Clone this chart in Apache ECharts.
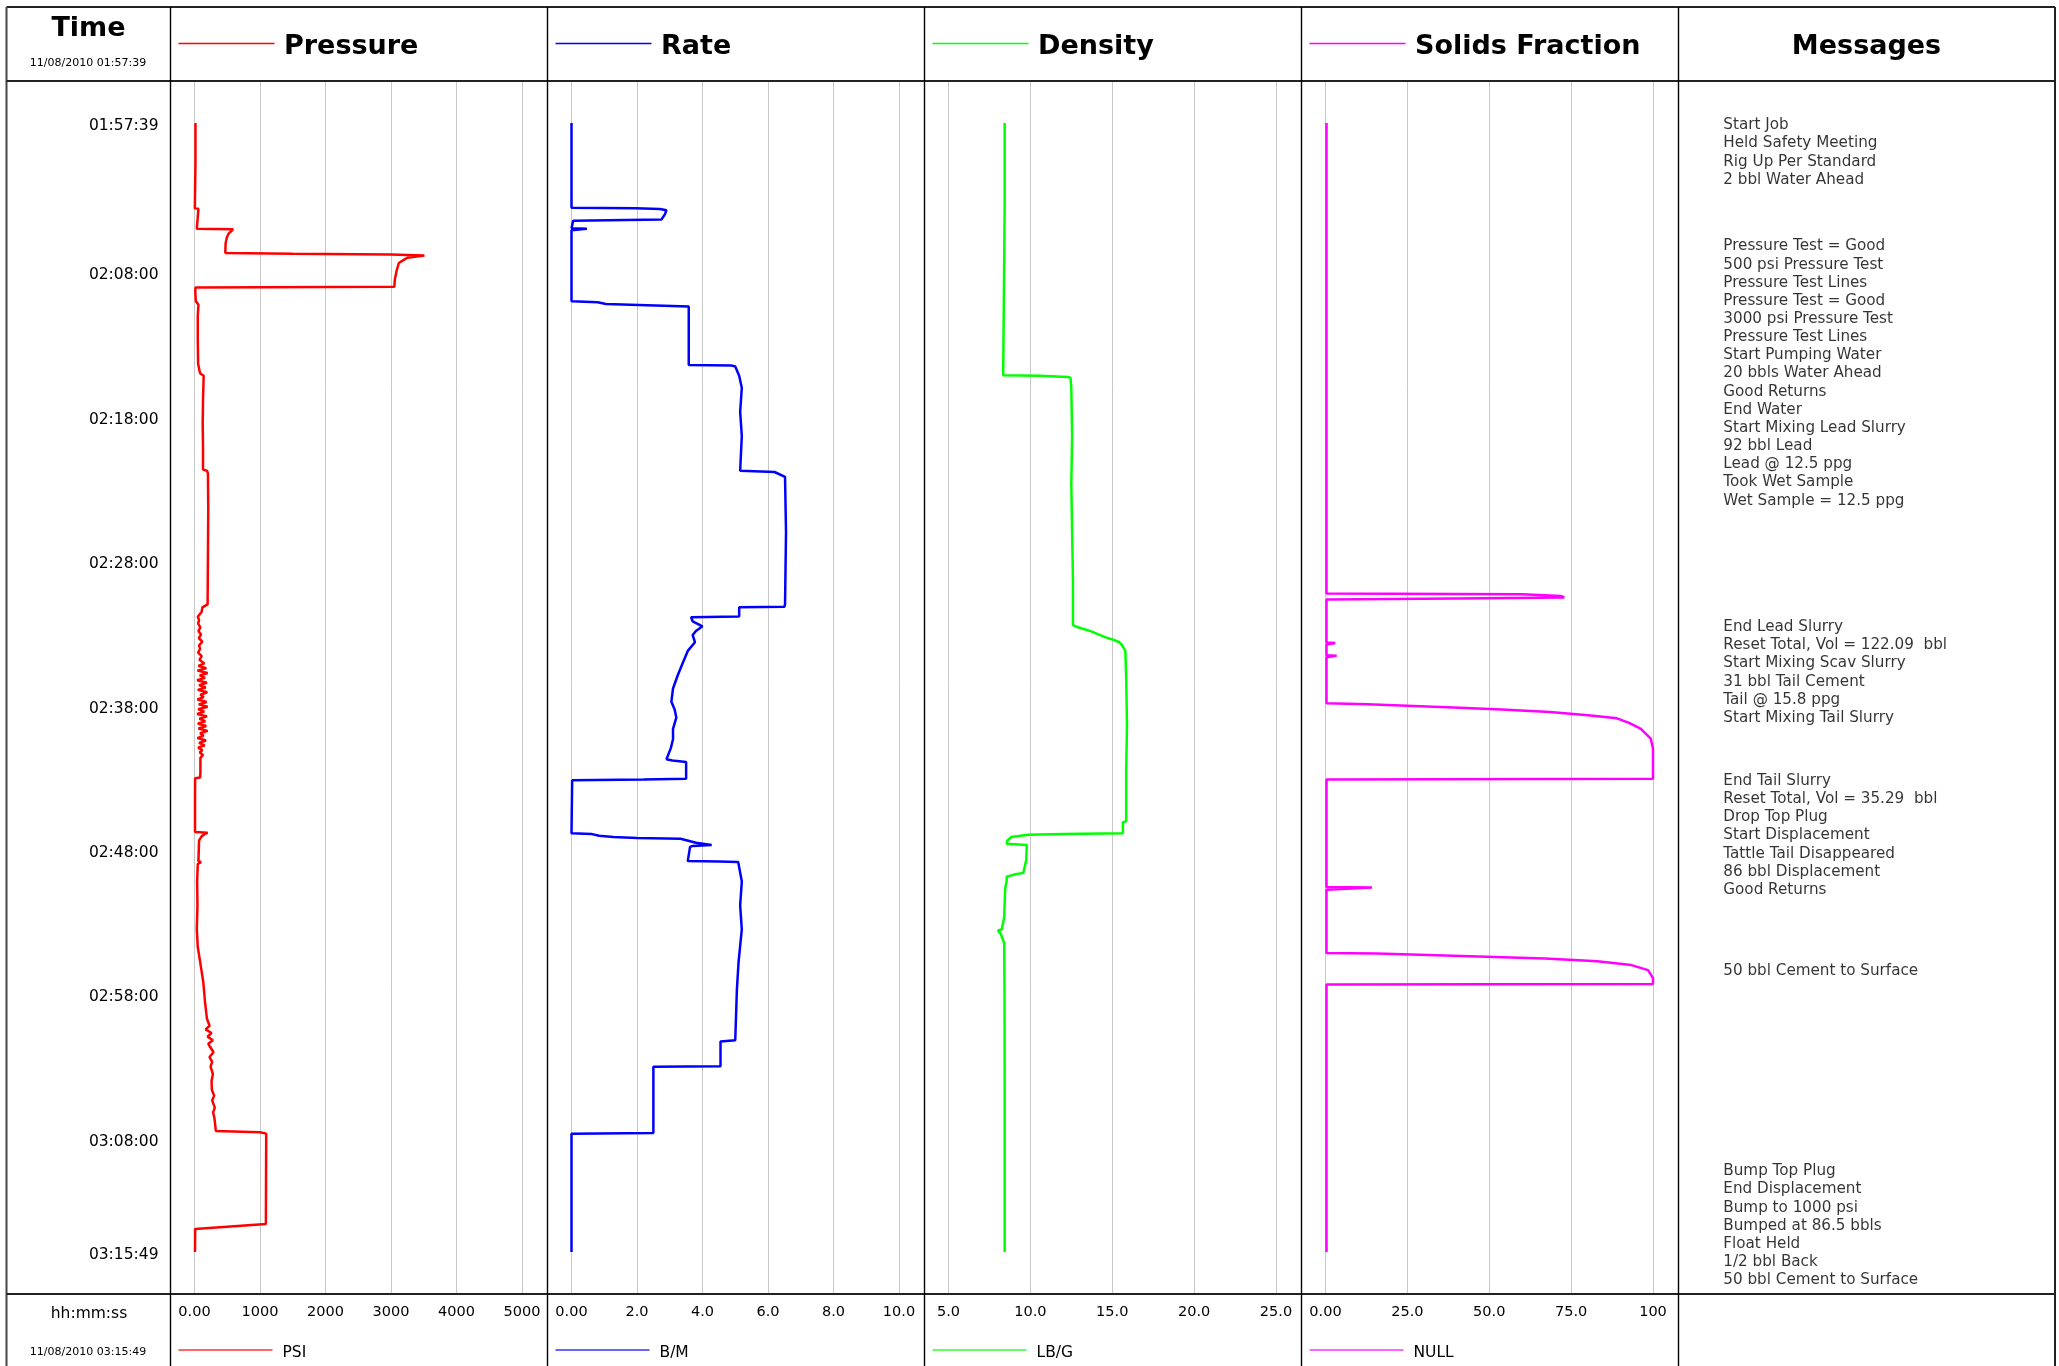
<!DOCTYPE html>
<html>
<head>
<meta charset="utf-8">
<script src="https://cdn.jsdelivr.net/npm/echarts@6/dist/echarts.min.js"></script>
<style>
  html, body { margin: 0; padding: 0; background: #fff; }
  #chart { width: 2059px; height: 1366px; }
</style>
</head>
<body>
<div id="chart"></div>
<script>
// ---------------- DATA ----------------
const startClock = '01:57:39';
const endClock = '03:15:49';
const startDate = '11/08/2010 01:57:39';
const endDate = '11/08/2010 03:15:49';
const timeTicks = ['01:57:39','02:08:00','02:18:00','02:28:00','02:38:00','02:48:00','02:58:00','03:08:00','03:15:49'];

const pressureTicks = ['0.00','1000','2000','3000','4000','5000'];
const rateTicks = ['0.00','2.0','4.0','6.0','8.0','10.0'];
const densityTicks = ['5.0','10.0','15.0','20.0','25.0'];
const solidsTicks = ['0.00','25.0','50.0','75.0','100'];

// [elapsed seconds since start, value]
const pressureData = [
  [0,15],[160,15],[164,5],[355,5],[357,60],[362,35],[440,35],[442,590],[450,570],[460,520],[475,495],[500,475],[540,470],
  [544,1500],[547,3000],[551,3510],[560,3250],[569,3195],[582,3120],[615,3085],[648,3060],[681,3050],[684,15],[700,12],
  [740,20],[755,60],[800,50],[900,50],[1000,55],[1006,80],[1040,85],[1050,140],[1150,130],[1250,125],[1350,130],[1440,130],
  [1445,190],[1455,205],[1600,210],[1800,205],[2000,200],[2007,170],[2012,120],[2030,110],[2051,50],
  [2065,70],[2080,55],[2095,90],[2110,60],[2125,100],[2140,65],[2155,120],[2170,70],[2185,85],[2200,55],[2215,110],[2230,75],
  [2245,150],[2255,60],[2265,180],[2275,45],[2285,200],[2295,80],[2305,160],[2315,40],[2325,190],[2335,70],[2345,170],
  [2355,50],[2365,195],[2375,90],[2385,140],[2395,45],[2405,185],[2415,65],[2425,200],[2435,55],[2445,150],[2455,40],
  [2465,190],[2475,75],[2485,165],[2495,50],[2505,180],[2515,60],[2525,200],[2535,85],[2545,140],[2555,45],[2565,175],
  [2575,70],[2585,155],[2595,55],[2605,120],[2615,80],[2625,130],[2637,90],[2700,90],[2719,85],[2722,10],[2800,8],
  [2945,8],[2948,200],[2955,150],[2963,110],[2980,70],[3067,60],[3070,100],[3078,50],[3150,40],[3250,45],[3350,35],
  [3423,50],[3500,95],[3571,135],[3650,160],[3720,190],[3750,230],[3765,170],[3780,260],[3795,200],[3810,280],[3825,210],
  [3838,240],[3860,290],[3880,230],[3900,270],[3920,245],[3950,280],[3980,260],[4016,265],[4040,300],[4060,270],[4090,310],
  [4110,285],[4135,305],[4160,315],[4187,325],[4192,1000],[4198,1095],[4400,1092],[4573,1090],[4594,10],[4690,8]
];

const rateData = [
  [0,0],[352,0],[355,1.96],[358,2.7],[363,2.9],[380,2.85],[401,2.75],[404,2.75],[406,0.05],[438,0],[440,0.47],[444,0.47],
  [446,0],[741,0],[745,0.8],[752,1.05],[755,1.8],[760,1.85],[763,3.58],[1006,3.58],[1008,4.9],[1012,5.0],[1050,5.12],
  [1100,5.2],[1200,5.15],[1300,5.2],[1445,5.15],[1450,6.2],[1470,6.52],[1700,6.55],[2000,6.52],[2010,6.5],[2012,5.12],
  [2050,5.12],[2053,3.65],[2070,3.7],[2091,4.0],[2110,3.8],[2127,3.7],[2157,3.77],[2193,3.55],[2242,3.4],[2292,3.25],
  [2349,3.1],[2404,3.05],[2436,3.15],[2470,3.2],[2517,3.1],[2560,3.1],[2598,3.03],[2643,2.9],[2648,3.08],[2654,3.5],
  [2724,3.5],[2727,2.2],[2730,0.02],[2950,0],[2953,0.6],[2961,0.84],[2966,1.28],[2970,2.0],[2973,3.33],[2990,3.8],
  [2999,4.28],[3003,3.7],[3007,3.62],[3066,3.55],[3068,4.5],[3070,5.09],[3150,5.2],[3250,5.15],[3350,5.2],[3487,5.1],
  [3600,5.05],[3810,5.0],[3815,4.55],[3918,4.55],[3920,2.5],[4195,2.5],[4198,0],[4690,0]
];

const densityData = [
  [0,8.43],[340,8.43],[344,8.34],[1048,8.34],[1050,10.5],[1055,12.3],[1059,12.45],[1100,12.5],[1300,12.55],[1500,12.5],
  [1700,12.55],[1900,12.6],[2086,12.6],[2095,12.9],[2111,13.68],[2136,14.56],[2150,15.2],[2157,15.44],[2170,15.6],
  [2193,15.8],[2300,15.85],[2500,15.9],[2700,15.85],[2900,15.85],[2905,15.65],[2950,15.65],[2953,12.0],[2957,9.87],
  [2966,8.84],[2980,8.6],[2994,8.55],[2999,9.78],[3060,9.75],[3115,9.57],[3122,9.0],[3131,8.55],[3150,8.55],[3180,8.46],
  [3300,8.4],[3350,8.25],[3354,8.02],[3370,8.2],[3406,8.4],[3600,8.42],[4000,8.43],[4690,8.43]
];

const solidsData = [
  [0,0.3],[1955,0.3],[1958,60],[1965,72],[1971,72.9],[1975,40],[1979,0.3],[2158,0.3],[2160,3],[2163,3],[2166,0.3],
  [2211,0.3],[2213,3.4],[2216,3.4],[2219,0.3],[2410,0.3],[2415,12.8],[2428,39.1],[2436,53.8],[2447,68.5],[2460,80.2],
  [2473,89],[2492,92.7],[2517,96.3],[2557,99.3],[2598,100],[2724,100],[2727,0.3],[3174,0.3],[3176,14.2],[3183,14.2],
  [3185,0.3],[3448,0.3],[3450,15.7],[3459,39],[3471,67],[3482,83],[3498,93.4],[3519,98.5],[3552,100],[3576,100],
  [3579,0.3],[4690,0.3]
];

// message blocks: elapsed seconds of first line, lines
const messageTimes = [0, 503, 2084, 2723, 3513, 4344];
const messageLines = [
  ['Start Job','Held Safety Meeting','Rig Up Per Standard','2 bbl Water Ahead'],
  ['Pressure Test = Good','500 psi Pressure Test','Pressure Test Lines','Pressure Test = Good','3000 psi Pressure Test',
   'Pressure Test Lines','Start Pumping Water','20 bbls Water Ahead','Good Returns','End Water','Start Mixing Lead Slurry',
   '92 bbl Lead','Lead @ 12.5 ppg','Took Wet Sample','Wet Sample = 12.5 ppg'],
  ['End Lead Slurry','Reset Total, Vol = 122.09  bbl','Start Mixing Scav Slurry','31 bbl Tail Cement','Tail @ 15.8 ppg',
   'Start Mixing Tail Slurry'],
  ['End Tail Slurry','Reset Total, Vol = 35.29  bbl','Drop Top Plug','Start Displacement','Tattle Tail Disappeared',
   '86 bbl Displacement','Good Returns'],
  ['50 bbl Cement to Surface'],
  ['Bump Top Plug','End Displacement','Bump to 1000 psi','Bumped at 86.5 bbls','Float Held','1/2 bbl Back',
   '50 bbl Cement to Surface']
];

const channels = [
  { title: 'Pressure', unit: 'PSI', color: '#ff0000', min: 0, max: 5000, interval: 1000, ticks: pressureTicks, data: pressureData },
  { title: 'Rate', unit: 'B/M', color: '#0000ff', min: 0, max: 10, interval: 2, ticks: rateTicks, data: rateData },
  { title: 'Density', unit: 'LB/G', color: '#00ff00', min: 5, max: 25, interval: 5, ticks: densityTicks, data: densityData },
  { title: 'Solids Fraction', unit: 'NULL', color: '#ff00ff', min: 0, max: 100, interval: 25, ticks: solidsTicks, data: solidsData }
];

// ---------------- HELPERS ----------------
const toSec = s => { const p = s.split(':').map(Number); return p[0]*3600 + p[1]*60 + p[2]; };
const T0 = toSec(startClock);
const pad2 = n => String(n).padStart(2, '0');
const fmtClock = sec => { const a = T0 + Math.round(sec); return pad2(Math.floor(a/3600)) + ':' + pad2(Math.floor(a%3600/60)) + ':' + pad2(a%60); };
const tickSecs = timeTicks.map(t => toSec(t) - T0);

// ---------------- LAYOUT ----------------
const FONT = '"DejaVu Sans", Verdana, sans-serif';
const L = 6.5, R = 2055, TOP = 7, BOT = 1372;
const HEAD_Y = 81, FOOT_Y = 1294;
const COL0 = 170.5, COLW = 377;
const PAD_L = 24, PLOT_W = 327.5;
const Y_MIN = -174, Y_MAX = 4864;

const grids = [], xAxes = [], yAxes = [], series = [], graphics = [];
const yBase = { type: 'value', min: Y_MIN, max: Y_MAX, inverse: true };

channels.forEach((ch, i) => {
  const colLeft = COL0 + COLW * i;
  grids.push({ left: colLeft + PAD_L, width: PLOT_W, top: HEAD_Y, height: FOOT_Y - HEAD_Y });
  xAxes.push({
    type: 'value', gridIndex: i, min: ch.min, max: ch.max, interval: ch.interval, position: 'bottom',
    axisLine: { show: false }, axisTick: { show: false },
    axisLabel: { margin: 11, color: '#000', fontFamily: FONT, fontSize: 14.5,
      formatter: v => ch.ticks[Math.round((v - ch.min) / ch.interval)] },
    splitLine: { show: true, lineStyle: { color: '#c8c8c8', width: 1 } }
  });
  yAxes.push(Object.assign({ gridIndex: i, show: false }, yBase));
  series.push({
    type: 'line', name: ch.title, xAxisIndex: i, yAxisIndex: i, data: ch.data.map(d => [d[1], d[0]]),
    showSymbol: false, symbol: 'none', lineStyle: { color: ch.color, width: 2.5 }, itemStyle: { color: ch.color },
    animation: false, silent: true
  });
  // header legend + title
  graphics.push({ type: 'line', shape: { x1: colLeft + 8, y1: 43.5, x2: colLeft + 104, y2: 43.5 },
    style: { stroke: ch.color, lineWidth: 1.3 } });
  graphics.push({ type: 'text', x: colLeft + 113.5, y: 46.8,
    style: { text: ch.title, fill: '#000', font: 'bold 27px ' + FONT, align: 'left', verticalAlign: 'middle' } });
  // footer legend
  graphics.push({ type: 'line', shape: { x1: colLeft + 8, y1: 1350, x2: colLeft + 102, y2: 1350 },
    style: { stroke: ch.color, lineWidth: 2.2, opacity: 0.6 } });
  graphics.push({ type: 'text', x: colLeft + 112, y: 1352.5,
    style: { text: ch.unit, fill: '#000', font: '15.5px ' + FONT, align: 'left', verticalAlign: 'middle' } });
});

// time label grid (index 4)
grids.push({ left: 166, width: 1, top: HEAD_Y, height: FOOT_Y - HEAD_Y });
xAxes.push({ type: 'value', gridIndex: 4, show: false, min: 0, max: 1 });
yAxes.push(Object.assign({
  gridIndex: 4, position: 'left',
  axisLine: { show: false }, axisTick: { show: false }, splitLine: { show: false },
  axisLabel: { customValues: tickSecs, margin: 7.5, color: '#000', fontFamily: FONT, fontSize: 15.5,
    verticalAlign: 'top', lineHeight: 5.4, formatter: v => fmtClock(v) }
}, yBase));
series.push({ type: 'scatter', xAxisIndex: 4, yAxisIndex: 4, data: [], silent: true });

// messages grid (index 5)
grids.push({ left: 1723.3, width: 300, top: HEAD_Y, height: FOOT_Y - HEAD_Y });
xAxes.push({ type: 'value', gridIndex: 5, show: false, min: 0, max: 1 });
yAxes.push(Object.assign({ gridIndex: 5, show: false }, yBase));
series.push({
  type: 'scatter', xAxisIndex: 5, yAxisIndex: 5, symbolSize: 0, silent: true, animation: false,
  data: messageTimes.map((t, k) => [0, t, k]),
  label: { show: true, position: [0, 0], offset: [0, -6.6], align: 'left', verticalAlign: 'top',
    color: '#000', fontFamily: FONT, fontSize: 15.2, lineHeight: 18.15,
    formatter: p => messageLines[p.value[2]].join('\n') }
});

// ---------------- FRAME ----------------
const frameLine = (x1, y1, x2, y2, w, c) => graphics.push({ type: 'line', z: 100,
  shape: { x1, y1, x2, y2 }, style: { stroke: c || '#000', lineWidth: w } });
frameLine(L, TOP, R, TOP, 2, '#222');
frameLine(L, TOP, L, BOT, 2, '#444');
frameLine(R, TOP, R, BOT, 2, '#222');
frameLine(L, HEAD_Y, R, HEAD_Y, 2, '#222');
frameLine(L, FOOT_Y, R, FOOT_Y, 2, '#222');
for (let i = 0; i < 5; i++) { const x = COL0 + COLW * i; frameLine(x, TOP, x, BOT, 1.4, '#000'); }

// Time column texts
graphics.push({ type: 'text', x: 88.5, y: 28.6,
  style: { text: 'Time', fill: '#000', font: 'bold 27px ' + FONT, align: 'center', verticalAlign: 'middle' } });
graphics.push({ type: 'text', x: 88, y: 63.5,
  style: { text: startDate, fill: '#000', font: '11px ' + FONT, align: 'center', verticalAlign: 'middle' } });
graphics.push({ type: 'text', x: 89, y: 1314,
  style: { text: 'hh:mm:ss', fill: '#000', font: '15.5px ' + FONT, align: 'center', verticalAlign: 'middle' } });
graphics.push({ type: 'text', x: 88, y: 1352,
  style: { text: endDate, fill: '#000', font: '11px ' + FONT, align: 'center', verticalAlign: 'middle' } });
// Messages header
graphics.push({ type: 'text', x: 1866.5, y: 46.8,
  style: { text: 'Messages', fill: '#000', font: 'bold 27px ' + FONT, align: 'center', verticalAlign: 'middle' } });

const chart = echarts.init(document.getElementById('chart'), null, { renderer: 'canvas' });
chart.setOption({
  animation: false,
  backgroundColor: '#fff',
  grid: grids, xAxis: xAxes, yAxis: yAxes, series: series,
  graphic: { elements: graphics }
});
</script>
</body>
</html>
